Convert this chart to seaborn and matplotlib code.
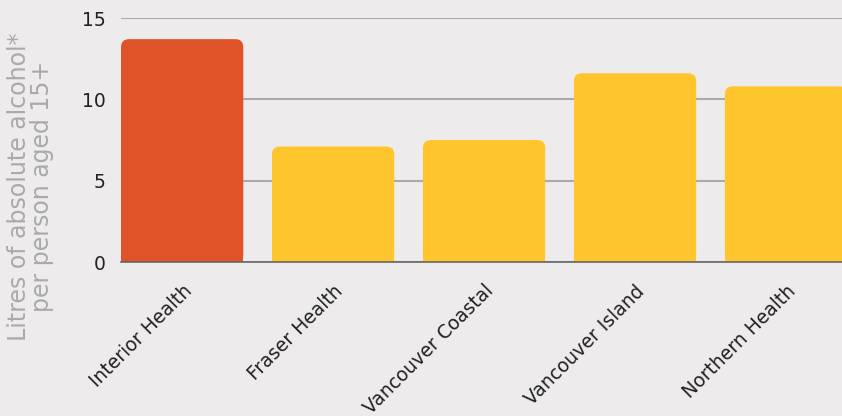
import matplotlib
matplotlib.use("Agg")
import matplotlib.pyplot as plt
import seaborn as sns
import pandas as pd
from matplotlib.patches import FancyBboxPatch

categories = ["Interior Health", "Fraser Health", "Vancouver Coastal", "Vancouver Island", "Northern Health"]
values = [13.7, 7.1, 7.5, 11.6, 10.8]
bar_colors = ["#E05328", "#FFC52C", "#FFC52C", "#FFC52C", "#FFC52C"]
y_ticks = [0, 5, 10, 15]

bg = "#EDEBEC"
sns.set_theme(style="white")
plt.rcParams["font.family"] = ["DejaVu Sans"]

fig = plt.figure(figsize=(8.42, 4.16), dpi=100, facecolor=bg)
ax = fig.add_axes([121/842, 1-262/416, (842-121)/842, (262-18)/416])
ax.set_facecolor(bg)

df = pd.DataFrame({"region": categories, "value": values})
sns.barplot(data=df, x="region", y="value", hue="region", palette=bar_colors,
            saturation=1, width=0.81, legend=False, ax=ax, zorder=3)

# px per data unit
px_x = 151.0
px_y = 244.0 / 15.0
for p in list(ax.patches):
    x, w, h = p.get_x(), p.get_width(), p.get_height()
    c = p.get_facecolor()
    p.set_visible(False)
    rb = FancyBboxPatch((x, 0), w, h, boxstyle="round,pad=0,rounding_size=%f" % (8/px_x),
                        mutation_aspect=px_x/px_y, facecolor=c, edgecolor="none", zorder=3)
    ax.add_patch(rb)
    sq = plt.Rectangle((x, 0), w, h*0.5, facecolor=c, edgecolor="none", zorder=3)
    ax.add_patch(sq)

ax.set_xlim(-0.405, 4 + (842-786)/151)
ax.set_ylim(0, 15)
ax.set_yticks(y_ticks)
ax.set_yticklabels([str(t) for t in y_ticks], fontsize=13.5, color="#222222")
ax.yaxis.grid(True, color="#AAAAAA", linewidth=1.5, zorder=0)
ax.set_axisbelow(True)
for s in ["top", "right", "left"]:
    ax.spines[s].set_visible(False)
ax.spines["bottom"].set_color("#666666")
ax.spines["bottom"].set_linewidth(1.2)
ax.spines["bottom"].set_zorder(4)
ax.tick_params(axis="y", length=0, pad=11)
ax.tick_params(axis="x", length=0, pad=14)
ax.set_xticks(range(len(categories)))
ax.set_xticklabels(categories, rotation=45, ha="right", rotation_mode="anchor",
                   fontsize=13.5, color="#222222")
ax.set_xlabel("")
ax.set_ylabel("Litres of absolute alcohol*\nper person aged 15+", fontsize=17,
              color="#AAAAAA", linespacing=0.95)
ax.yaxis.set_label_coords(-67/721, 0.31)

fig.savefig("out.png", dpi=100, facecolor=bg)
